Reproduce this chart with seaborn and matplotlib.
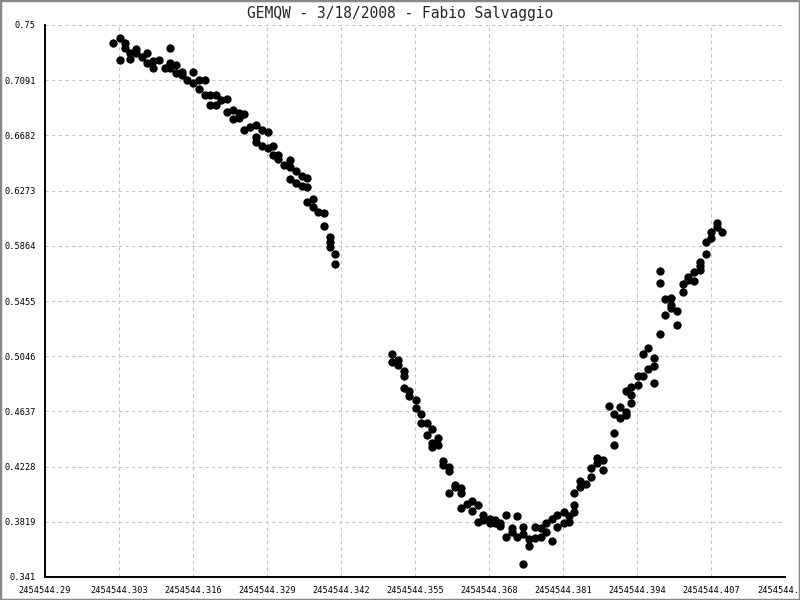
import matplotlib
matplotlib.use("Agg")
import matplotlib.pyplot as plt
import matplotlib.transforms as mtransforms
from matplotlib.patches import Rectangle
import pandas as pd
import seaborn as sns

# time of each point (JD - 2454544) and measured value
JD0 = 2454544.0
jd_offset = [
    0.3020, 0.3031, 0.3031, 0.3041, 0.3041, 0.3049, 0.3049, 0.3060, 0.3060, 0.3070,
    0.3080, 0.3080, 0.3090, 0.3090, 0.3101, 0.3111, 0.3120, 0.3120, 0.3120, 0.3131,
    0.3131, 0.3140, 0.3140, 0.3150, 0.3160, 0.3160, 0.3171, 0.3171, 0.3181, 0.3181,
    0.3190, 0.3190, 0.3200, 0.3200, 0.3209, 0.3219, 0.3219, 0.3231, 0.3231, 0.3241,
    0.3241, 0.3250, 0.3250, 0.3260, 0.3271, 0.3271, 0.3271, 0.3281, 0.3281, 0.3291,
    0.3291, 0.3301, 0.3301, 0.3310, 0.3310, 0.3320, 0.3330, 0.3330, 0.3330, 0.3341,
    0.3341, 0.3351, 0.3351, 0.3361, 0.3361, 0.3361, 0.3371, 0.3371, 0.3380, 0.3391,
    0.3391, 0.3401, 0.3401, 0.3401, 0.3410, 0.3410,
    # second run
    0.3510, 0.3510, 0.3521, 0.3521, 0.3531, 0.3531, 0.3531, 0.3540, 0.3540, 0.3551,
    0.3551, 0.3561, 0.3561, 0.3571, 0.3571, 0.3580, 0.3580, 0.3580, 0.3591, 0.3591,
    0.3600, 0.3600, 0.3610, 0.3610, 0.3610, 0.3621, 0.3621, 0.3631, 0.3631, 0.3631,
    0.3641, 0.3651, 0.3651, 0.3661, 0.3661, 0.3670, 0.3670, 0.3681, 0.3681, 0.3691,
    0.3691, 0.3699, 0.3699, 0.3710, 0.3710, 0.3720, 0.3720, 0.3730, 0.3730, 0.3740,
    0.3740, 0.3740, 0.3751, 0.3751, 0.3761, 0.3761, 0.3771, 0.3771, 0.3780, 0.3780,
    0.3791, 0.3791, 0.3800, 0.3800, 0.3811, 0.3811, 0.3821, 0.3821, 0.3830, 0.3830,
    0.3830, 0.3840, 0.3840, 0.3850, 0.3860, 0.3860, 0.3870, 0.3870, 0.3881, 0.3881,
    0.3891, 0.3900, 0.3900, 0.3900, 0.3910, 0.3910, 0.3921, 0.3921, 0.3921, 0.3929,
    0.3929, 0.3929, 0.3941, 0.3941, 0.3951, 0.3951, 0.3960, 0.3960, 0.3970, 0.3970,
    0.3970, 0.3980, 0.3980, 0.3980, 0.3990, 0.3990, 0.4000, 0.4000, 0.4000, 0.4011,
    0.4011, 0.4021, 0.4021, 0.4030, 0.4030, 0.4041, 0.4041, 0.4051, 0.4051, 0.4051,
    0.4061, 0.4061, 0.4070, 0.4070, 0.4080, 0.4080, 0.4090,
]
value = [
    0.7367, 0.7402, 0.7241, 0.7367, 0.7326, 0.7296, 0.7247, 0.7322, 0.7296, 0.7263,
    0.7291, 0.7221, 0.7234, 0.7185, 0.7241, 0.7179, 0.7326, 0.7221, 0.7179, 0.7204,
    0.7148, 0.7152, 0.7130, 0.7093, 0.7150, 0.7068, 0.7093, 0.7026, 0.7093, 0.6982,
    0.6982, 0.6908, 0.6982, 0.6908, 0.6945, 0.6952, 0.6859, 0.6871, 0.6802, 0.6846,
    0.6809, 0.6841, 0.6722, 0.6747, 0.6759, 0.6668, 0.6636, 0.6722, 0.6604, 0.6705,
    0.6587, 0.6604, 0.6537, 0.6537, 0.6505, 0.6463, 0.6500, 0.6446, 0.6357, 0.6421,
    0.6327, 0.6384, 0.6307, 0.6364, 0.6302, 0.6191, 0.6211, 0.6154, 0.6117, 0.6105,
    0.6011, 0.5932, 0.5895, 0.5858, 0.5801, 0.5727,
    # second run
    0.5062, 0.5005, 0.5018, 0.4981, 0.4936, 0.4899, 0.4808, 0.4790, 0.4751, 0.4722,
    0.4660, 0.4618, 0.4553, 0.4553, 0.4462, 0.4504, 0.4401, 0.4371, 0.4438, 0.4388,
    0.4272, 0.4240, 0.4227, 0.4198, 0.4030, 0.4092, 0.4075, 0.4067, 0.4030, 0.3919,
    0.3951, 0.3973, 0.3901, 0.3944, 0.3820, 0.3869, 0.3832, 0.3838, 0.3808, 0.3832,
    0.3808, 0.3808, 0.3788, 0.3869, 0.3703, 0.3771, 0.3746, 0.3862, 0.3703, 0.3778,
    0.3729, 0.3504, 0.3689, 0.3640, 0.3778, 0.3697, 0.3771, 0.3703, 0.3808, 0.3746,
    0.3838, 0.3677, 0.3869, 0.3778, 0.3895, 0.3808, 0.3860, 0.3814, 0.4036, 0.3944,
    0.3895, 0.4121, 0.4075, 0.4099, 0.4216, 0.4153, 0.4290, 0.4253, 0.4277, 0.4203,
    0.4677, 0.4616, 0.4475, 0.4388, 0.4667, 0.4586, 0.4785, 0.4630, 0.4610, 0.4818,
    0.4759, 0.4697, 0.4899, 0.4833, 0.5062, 0.4899, 0.5109, 0.4949, 0.5031, 0.4974,
    0.4845, 0.5677, 0.5586, 0.5208, 0.5468, 0.5349, 0.5475, 0.5426, 0.5406, 0.5381,
    0.5277, 0.5581, 0.5520, 0.5635, 0.5611, 0.5672, 0.5603, 0.5746, 0.5714, 0.5685,
    0.5890, 0.5801, 0.5969, 0.5924, 0.6031, 0.6001, 0.5969,
]

x_ticks = [0.29, 0.303, 0.316, 0.329, 0.342, 0.355, 0.368, 0.381, 0.394, 0.407, 0.42]
x_labels = ["2454544.29", "2454544.303", "2454544.316", "2454544.329", "2454544.342",
            "2454544.355", "2454544.368", "2454544.381", "2454544.394", "2454544.407",
            "2454544."]
y_ticks = [0.341, 0.3819, 0.4228, 0.4637, 0.5046, 0.5455, 0.5864, 0.6273, 0.6682, 0.7091, 0.75]
y_labels = ["0.341", "0.3819", "0.4228", "0.4637", "0.5046", "0.5455", "0.5864",
            "0.6273", "0.6682", "0.7091", "0.75"]

df = pd.DataFrame({"jd": [JD0 + t for t in jd_offset], "value": value})

sns.set_style("white")
plt.rcParams["font.family"] = ["DejaVu Sans Mono"]

fig = plt.figure(figsize=(8, 6), dpi=100)
ax = fig.add_axes([45 / 800, 23 / 600, 740 / 800, 552 / 600])

sns.scatterplot(data=df, x="jd", y="value", ax=ax, color="black", s=36,
                linewidth=0, zorder=3, clip_on=False)

ax.set_xlim(JD0 + 0.29, JD0 + 0.42)
ax.set_ylim(0.341, 0.75)
ax.set_xticks([JD0 + t for t in x_ticks])
ax.set_xticklabels(x_labels)
ax.set_yticks(y_ticks)
ax.set_yticklabels(y_labels)
ax.set_xlabel("")
ax.set_ylabel("")

ax.grid(True, color="#c4c4c4", linestyle=(0, (3, 3)), linewidth=0.8)
ax.set_axisbelow(True)
for side in ["top", "right"]:
    ax.spines[side].set_visible(False)
for side in ["left", "bottom"]:
    ax.spines[side].set_color("black")
    ax.spines[side].set_linewidth(1.4)
ax.tick_params(direction="inout", length=7, width=1.2, color="black",
               labelsize=6.2, pad=3, labelcolor="black")

# last label is cut off at the figure edge in the original
last = ax.get_xticklabels()[-1]
last.set_transform(last.get_transform() +
                   mtransforms.ScaledTranslation(-7 / 100, 0, fig.dpi_scale_trans))

fig.suptitle("GEMQW - 3/18/2008 - Fabio Salvaggio", y=0.99, fontsize=10.5,
             va="top")
fig.patches.append(Rectangle((0, 0), 1, 1, transform=fig.transFigure, fill=False,
                             edgecolor="#888888", linewidth=2.5))

fig.savefig("out.png", dpi=100)
